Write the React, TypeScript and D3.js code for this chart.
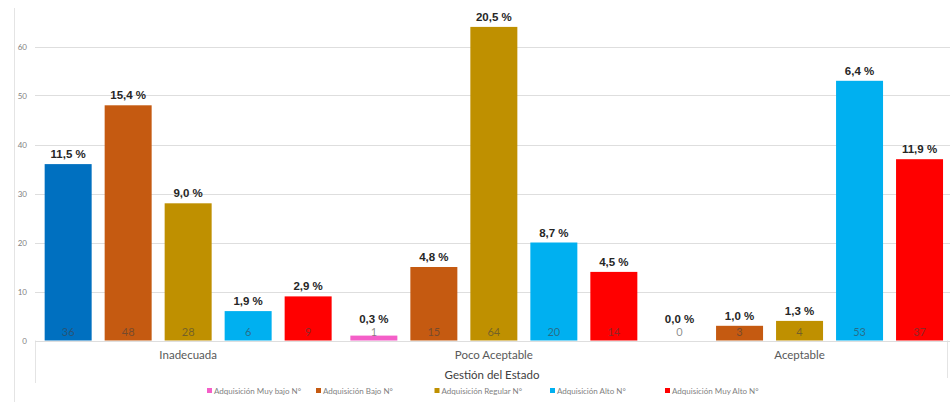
import React from "react";
import * as d3 from "d3";

// Categories (Gestión del Estado) and series (Adquisición levels)
const categories = ["Inadecuada", "Poco Aceptable", "Aceptable"];
const seriesNames = [
  "Adquisición Muy bajo N°",
  "Adquisición Bajo N°",
  "Adquisición Regular N°",
  "Adquisición Alto N°",
  "Adquisición Muy Alto N°",
];
const seriesColors = ["#F45FC8", "#C55A11", "#BF9000", "#00B0F0", "#FF0000"];

// Counts per category, one array per series
const muyBajo = [36, 1, 0];
const bajo = [48, 15, 3];
const regular = [28, 64, 4];
const alto = [6, 20, 53];
const muyAlto = [9, 14, 37];

// Percentage labels per series
const muyBajoPct = ["11,5 %", "0,3 %", "0,0 %"];
const bajoPct = ["15,4 %", "4,8 %", "1,0 %"];
const regularPct = ["9,0 %", "20,5 %", "1,3 %"];
const altoPct = ["1,9 %", "8,7 %", "6,4 %"];
const muyAltoPct = ["2,9 %", "4,5 %", "11,9 %"];

const yTicks = [0, 10, 20, 30, 40, 50, 60];

const values = [muyBajo, bajo, regular, alto, muyAlto];
const pcts = [muyBajoPct, bajoPct, regularPct, altoPct, muyAltoPct];

// single data point with its own fill (Inadecuada / Muy bajo)
const pointColor = (s: number, c: number) =>
  s === 0 && c === 0 ? "#0070C0" : seriesColors[s];

const W = 950;
const H = 402;

export default function App() {
  const x0 = d3
    .scaleBand<string>()
    .domain(categories)
    .range([35.3, 35.3 + 3 * 305.7])
    .paddingInner(0)
    .paddingOuter(0);
  const x1 = d3
    .scaleBand<number>()
    .domain(d3.range(seriesNames.length))
    .range([0, x0.bandwidth()])
    .paddingInner(0.2167)
    .paddingOuter(0.156);
  const y = d3.scaleLinear().domain([0, 60]).range([340.5, 46.5]);

  const legendX = [207, 316, 434.5, 550, 665];
  const gridColor = "#dedede";
  const font = "Lato, 'Liberation Sans', Arial, sans-serif";
  const boldFont = "'Liberation Sans', Arial, sans-serif";

  return (
    <svg
      width={W}
      height={H}
      style={{ position: "absolute", left: 0, top: 0, background: "#fff" }}
    >
      {/* outer frame line on the left */}
      <line x1={14.5} x2={14.5} y1={8} y2={H} stroke="#e4e4e4" />
      {/* category box */}
      <line x1={35.5} x2={35.5} y1={340.5} y2={383} stroke="#e4e4e4" />
      <line x1={947.5} x2={947.5} y1={340.5} y2={378} stroke="#e4e4e4" />

      {/* gridlines and y tick labels */}
      {yTicks.map((t) => (
        <g key={t}>
          <line
            x1={35}
            x2={W}
            y1={Math.round(y(t)) + 0.5}
            y2={Math.round(y(t)) + 0.5}
            stroke={gridColor}
            strokeWidth={1}
          />
          <text
            x={27}
            y={y(t) + 3}
            textAnchor="end"
            fontSize={8}
            fontFamily={font}
            fill="#7f7f7f"
          >
            {t}
          </text>
        </g>
      ))}

      {/* bars */}
      {categories.map((cat, c) => (
        <g key={cat} transform={`translate(${x0(cat)},0)`}>
          {values.map((arr, s) => {
            const v = arr[c];
            const bx = x1(s)!;
            const bw = x1.bandwidth();
            const top = y(v);
            const pctY = Math.min(top - 6, 322.5);
            return (
              <g key={s}>
                {v > 0 && (
                  <rect
                    x={bx}
                    y={top}
                    width={bw}
                    height={y(0) - top}
                    fill={pointColor(s, c)}
                  />
                )}
                <text
                  x={bx + bw / 2}
                  y={336}
                  textAnchor="middle"
                  fontSize={11}
                  fontFamily={font}
                  fill="#404040"
                  fillOpacity={0.6}
                >
                  {v}
                </text>
                <text
                  x={bx + bw / 2}
                  y={pctY}
                  textAnchor="middle"
                  fontSize={11.5}
                  fontWeight="bold"
                  fontFamily={boldFont}
                  fill="#262626"
                >
                  {pcts[s][c]}
                </text>
              </g>
            );
          })}
          <text
            x={x0.bandwidth() / 2}
            y={359}
            textAnchor="middle"
            fontSize={11.5}
            fontFamily={font}
            fill="#595959"
          >
            {cat}
          </text>
        </g>
      ))}

      {/* axis title */}
      <text
        x={492}
        y={379}
        textAnchor="middle"
        fontSize={11.5}
        fontFamily={font}
        fill="#404040"
      >
        Gestión del Estado
      </text>

      {/* legend */}
      {seriesNames.map((name, s) => (
        <g key={name} transform={`translate(${legendX[s]},391)`}>
          <rect x={0} y={-3} width={5} height={5} fill={seriesColors[s]} />
          <text
            x={7}
            y={2.5}
            fontSize={8}
            fontFamily={font}
            fill="#7f7f7f"
          >
            {name}
          </text>
        </g>
      ))}
    </svg>
  );
}
